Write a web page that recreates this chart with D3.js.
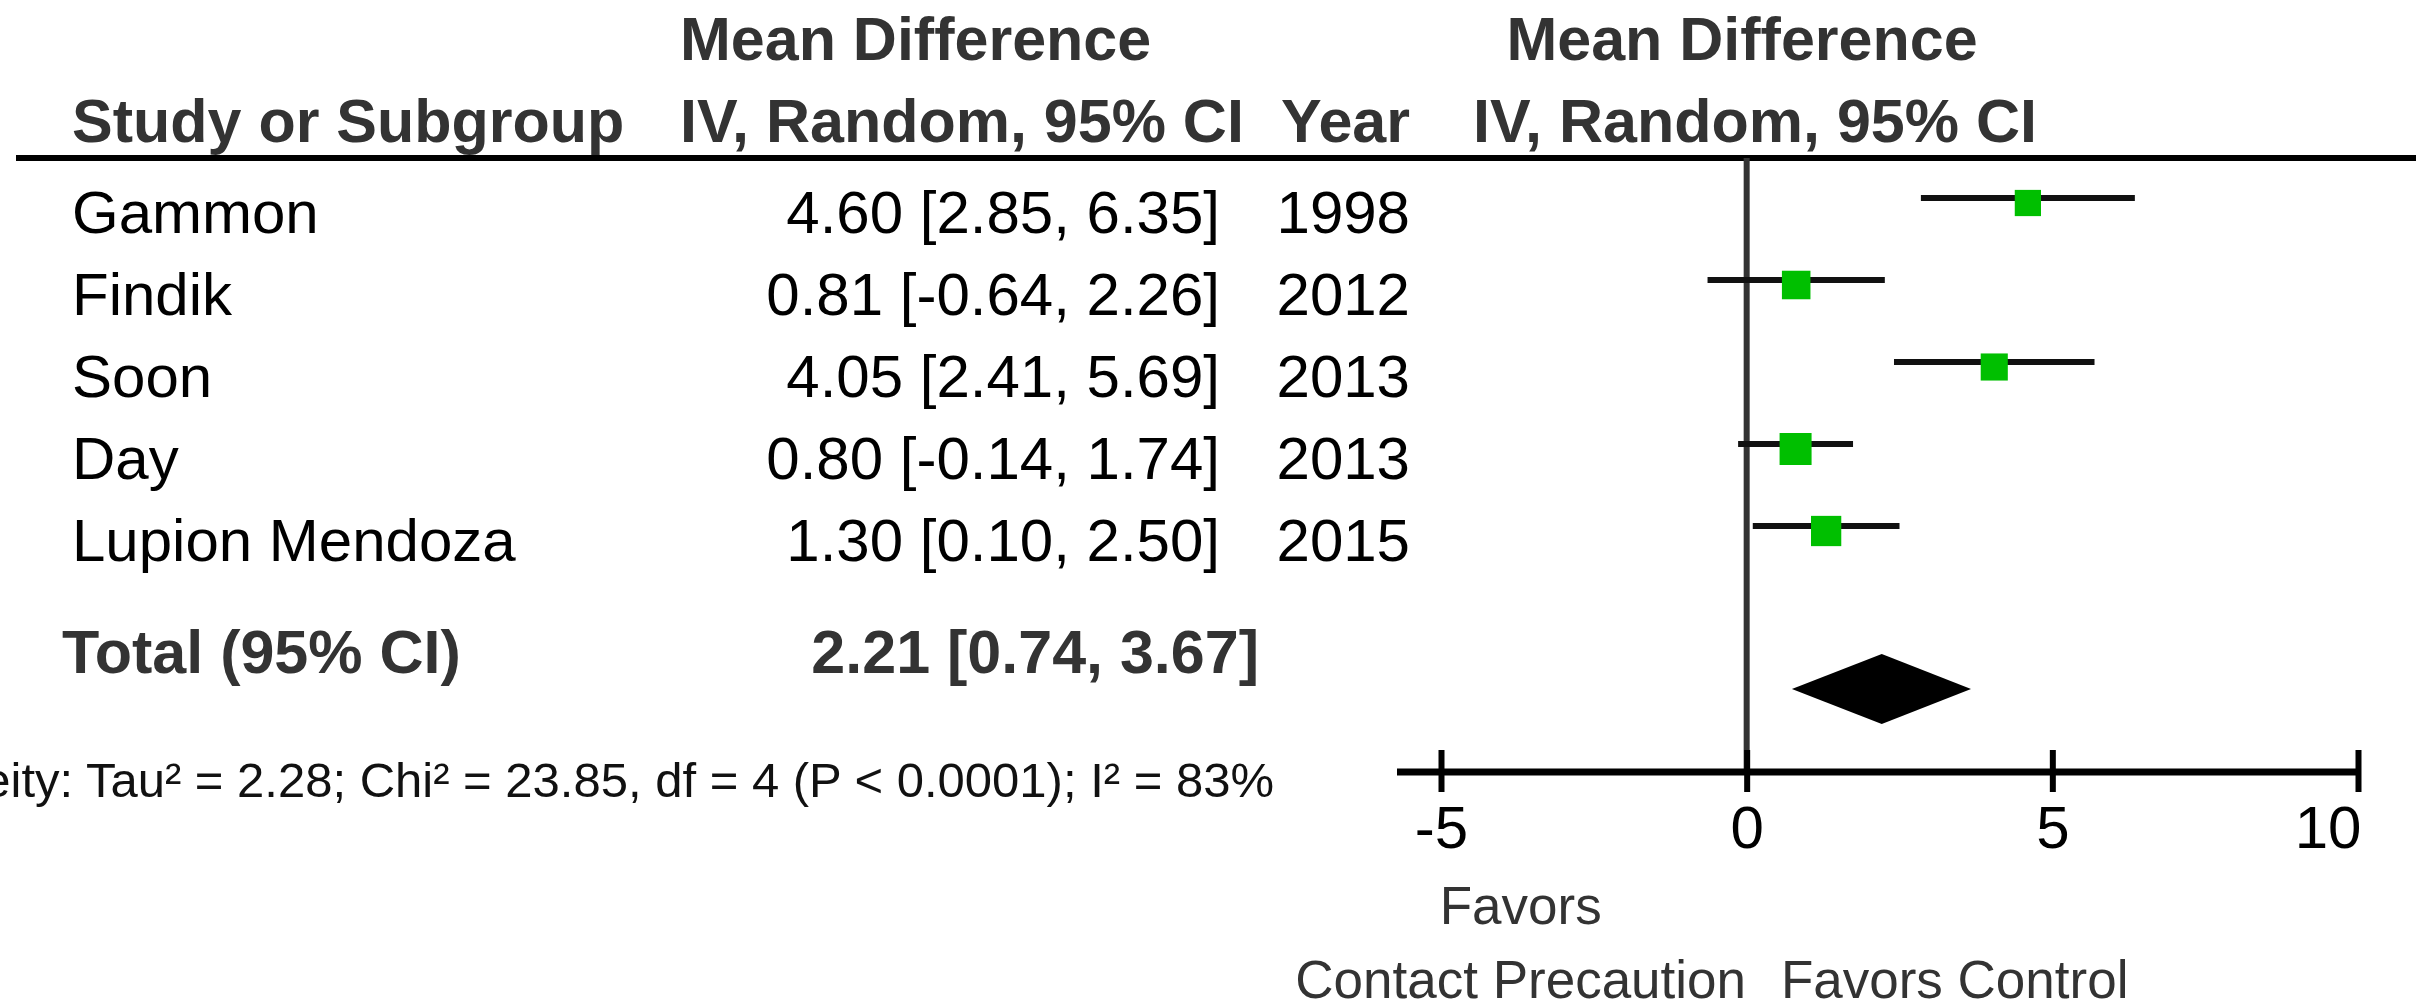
<!DOCTYPE html>
<html>
<head>
<meta charset="utf-8">
<script src="https://cdn.jsdelivr.net/npm/d3@7"></script>
<style>
  body { margin: 0; background: #fff; }
  text { font-family: "Liberation Sans", Arial, sans-serif; }
</style>
</head>
<body>
<div id="chart"></div>
<script>
// data
var studies = ["Gammon", "Findik", "Soon", "Day", "Lupion Mendoza"];
var years = ["1998", "2012", "2013", "2013", "2015"];
var md = [4.60, 0.81, 4.05, 0.80, 1.30];
var lower = [2.85, -0.64, 2.41, -0.14, 0.10];
var upper = [6.35, 2.26, 5.69, 1.74, 2.50];
var weights = [18.2, 19.8, 18.8, 22.2, 21.0];
var total = {md: 2.21, lower: 0.74, upper: 3.67};
var xTicks = [-5, 0, 5, 10];
var heterogeneity = "Heterogeneity: Tau\u00b2 = 2.28; Chi\u00b2 = 23.85, df = 4 (P < 0.0001); I\u00b2 = 83%";

var width = 2416, height = 1008;

var svg = d3.select("#chart")
    .append("svg")
        .attr("width", width)
        .attr("height", height);

// plain hyphen for negatives, like the original
var locale = d3.formatLocale({decimal: ".", thousands: ",", grouping: [3], currency: ["", ""], minus: "-"});
var fmt = locale.format(".2f");
var tickFmt = locale.format("d");

var rows = studies.map(function (s, i) {
    return {name: s, year: years[i], md: md[i], lo: lower[i], hi: upper[i], w: weights[i]};
});

// scales
var x = d3.scaleLinear().domain([-5, 10]).range([1441, 2358]);
var y = d3.scalePoint().domain(studies).range([198, 526]);
var size = d3.scaleLinear().domain([0, d3.max(weights)]).range([0, 32]);

var axisY = 772, totalY = 689;

// headers
var head = svg.append("g")
    .style("font-weight", "bold")
    .style("font-size", "61px")
    .attr("fill", "#333");
head.append("text").attr("x", 680).attr("y", 60).text("Mean Difference");
head.append("text").attr("x", 72).attr("y", 142).text("Study or Subgroup");
head.append("text").attr("x", 680).attr("y", 142).text("IV, Random, 95% CI");
head.append("text").attr("x", 1410).attr("y", 142).attr("text-anchor", "end").text("Year");
head.append("text").attr("x", 1742).attr("y", 60).attr("text-anchor", "middle").text("Mean Difference");
head.append("text").attr("x", 1755).attr("y", 142).attr("text-anchor", "middle").text("IV, Random, 95% CI");

svg.append("line")
    .attr("x1", 16).attr("x2", width)
    .attr("y1", 158).attr("y2", 158)
    .attr("stroke", "#000").attr("stroke-width", 6);

// study rows (text)
var rowText = svg.append("g").style("font-size", "60px").attr("fill", "#000");
rowText.selectAll(".name")
    .data(rows).enter().append("text")
        .attr("x", 72)
        .attr("y", function (d) { return y(d.name) + 35; })
        .text(function (d) { return d.name; });
rowText.selectAll(".ci")
    .data(rows).enter().append("text")
        .attr("x", 1220)
        .attr("y", function (d) { return y(d.name) + 35; })
        .attr("text-anchor", "end")
        .text(function (d) { return fmt(d.md) + " [" + fmt(d.lo) + ", " + fmt(d.hi) + "]"; });
rowText.selectAll(".yr")
    .data(rows).enter().append("text")
        .attr("x", 1410)
        .attr("y", function (d) { return y(d.name) + 35; })
        .attr("text-anchor", "end")
        .text(function (d) { return d.year; });

// total row
var tot = svg.append("g").style("font-size", "61px").style("font-weight", "bold").attr("fill", "#333");
tot.append("text").attr("x", 62).attr("y", 673).text("Total (95% CI)");
tot.append("text").attr("x", 1259).attr("y", 673).attr("text-anchor", "end")
    .text(fmt(total.md) + " [" + fmt(total.lower) + ", " + fmt(total.upper) + "]");

svg.append("text")
    .attr("x", 1274).attr("y", 797)
    .attr("text-anchor", "end")
    .style("font-size", "49px")
    .attr("fill", "#111")
    .text(heterogeneity);

// line of no effect
svg.append("line")
    .attr("x1", x(0)).attr("x2", x(0))
    .attr("y1", 158).attr("y2", axisY)
    .attr("stroke", "#333").attr("stroke-width", 6);

// confidence intervals
svg.append("g").selectAll("line")
    .data(rows).enter().append("line")
        .attr("x1", function (d) { return x(d.lo); })
        .attr("x2", function (d) { return x(d.hi); })
        .attr("y1", function (d) { return y(d.name); })
        .attr("y2", function (d) { return y(d.name); })
        .attr("stroke", "#111")
        .attr("stroke-width", 6);

// study squares
svg.append("g").selectAll("rect")
    .data(rows).enter().append("rect")
        .attr("x", function (d) { return x(d.md) - size(d.w) / 2; })
        .attr("y", function (d) { return y(d.name) + 5 - size(d.w) / 2; })
        .attr("width", function (d) { return size(d.w); })
        .attr("height", function (d) { return size(d.w); })
        .style("fill", "#00bf00");

// pooled diamond
svg.append("path")
    .attr("d", d3.line()([
        [x(total.lower), totalY],
        [x(total.md), totalY - 35],
        [x(total.upper), totalY],
        [x(total.md), totalY + 35]
    ]) + "Z")
    .attr("fill", "#000");

// x axis
svg.append("line")
    .attr("x1", x(-5) - 44).attr("x2", x(10) + 3)
    .attr("y1", axisY).attr("y2", axisY)
    .attr("stroke", "#000").attr("stroke-width", 7);

var ax = svg.append("g")
    .attr("transform", "translate(0," + axisY + ")")
    .call(d3.axisBottom(x).tickValues(xTicks).tickFormat(tickFmt).tickSizeOuter(0).tickSize(20).tickPadding(0));
ax.select(".domain").remove();
ax.selectAll(".tick line")
    .attr("y1", -22).attr("y2", 20)
    .attr("stroke", "#000").attr("stroke-width", 6);
ax.selectAll(".tick text")
    .attr("y", 76).attr("dy", null)
    .attr("fill", "#000")
    .style("font-size", "60px")
    .style("font-family", "'Liberation Sans', Arial, sans-serif")
    .attr("text-anchor", function (d) { return d === 10 ? "end" : "middle"; })
    .attr("x", function (d) { return d === 10 ? 3 : 0; });

// favours labels
var fav = svg.append("g").style("font-size", "53px").attr("fill", "#333").attr("text-anchor", "middle");
fav.append("text").attr("x", x(0) - 226).attr("y", 924).text("Favors");
fav.append("text").attr("x", x(0) - 226).attr("y", 998).text("Contact Precaution");
fav.append("text").attr("x", x(0) + 208).attr("y", 998).text("Favors Control");
</script>
</body>
</html>
